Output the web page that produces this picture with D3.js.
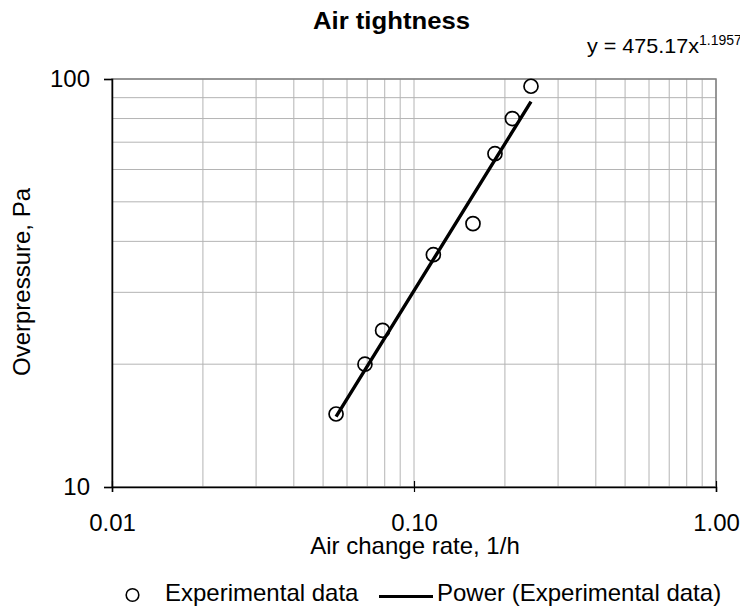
<!DOCTYPE html>
<html>
<head>
<meta charset="utf-8">
<script src="https://cdn.jsdelivr.net/npm/d3@7"></script>
<style>
  body { margin: 0; background: #fff; }
  text { font-family: "Liberation Sans", Arial, sans-serif; }
</style>
</head>
<body>
<div id="chart"></div>
<script>
// measured points (air change rate 1/h, overpressure Pa)
const airChange = [0.0552, 0.0688, 0.0787, 0.1159, 0.1568, 0.1854, 0.2117, 0.2440];
const pressure = [15.1, 20.0, 24.2, 37.1, 44.2, 65.6, 80.0, 96.0];
// power trendline y = a * x^b
const fitA = 475.17;
const fitB = 1.1957;
const xTicks = [0.01, 0.1, 1];
const xTickLabels = ["0.01", "0.10", "1.00"];
const yTicks = [10, 100];

const width = 740, height = 608;
const margin = { left: 112, right: 24, top: 79, bottom: 121 };

const svg = d3.select("#chart").append("svg")
    .attr("width", width)
    .attr("height", height);

const x = d3.scaleLog().domain([0.01, 1]).range([margin.left, width - margin.right]);
const y = d3.scaleLog().domain([10, 100]).range([height - margin.bottom, margin.top]);

// gridlines, 1..9 in each decade
const gridX = [];
const gridY = [];
[0.01, 0.1].forEach(d => { for (let k = 1; k < 10; k++) gridX.push(d * k); });
gridX.push(1);
for (let k = 1; k <= 10; k++) gridY.push(10 * k);

svg.selectAll(".gx").data(gridX).enter().append("line")
    .attr("x1", d => x(d)).attr("x2", d => x(d))
    .attr("y1", y(10)).attr("y2", y(100))
    .style("stroke", "#b4b4b4").style("stroke-width", 1);

svg.selectAll(".gy").data(gridY).enter().append("line")
    .attr("x1", x(0.01)).attr("x2", x(1))
    .attr("y1", d => y(d)).attr("y2", d => y(d))
    .style("stroke", "#b4b4b4").style("stroke-width", 1);

// plot area border (grey top/right)
svg.append("rect")
    .attr("x", x(0.01)).attr("y", y(100))
    .attr("width", x(1) - x(0.01)).attr("height", y(10) - y(100))
    .style("fill", "none").style("stroke", "#808080").style("stroke-width", 1.5);

// axes
const xAxis = d3.axisBottom(x).tickValues(xTicks).tickSize(5)
    .tickFormat((d, i) => xTickLabels[i]).tickPadding(22);
const gx = svg.append("g").attr("transform", `translate(0,${y(10)})`).call(xAxis);
gx.select(".domain").style("stroke", "#000").style("stroke-width", 1.5);
gx.selectAll(".tick line").attr("y1", -6).style("stroke-width", 1.2);
gx.selectAll(".tick text").style("font-size", "24px").style("fill", "#000");

const yAxis = d3.axisLeft(y).tickValues(yTicks).tickSize(8)
    .tickFormat(d3.format("d")).tickPadding(14);
const gy = svg.append("g").attr("transform", `translate(${x(0.01)},0)`).call(yAxis);
gy.select(".domain").style("stroke", "#000").style("stroke-width", 1.5);
gy.selectAll(".tick line").style("stroke-width", 1.2);
gy.selectAll(".tick text").style("font-size", "24px").style("fill", "#000");

// trendline
const xMin = d3.min(airChange), xMax = d3.max(airChange);
const fitPts = d3.range(0, 21).map(i => {
    const xv = xMin * Math.pow(xMax / xMin, i / 20);
    return [xv, fitA * Math.pow(xv, fitB)];
});
svg.append("path")
    .datum(fitPts)
    .attr("d", d3.line().x(d => x(d[0])).y(d => y(d[1])))
    .style("fill", "none").style("stroke", "#000").style("stroke-width", 3.4);

// markers
svg.selectAll(".pt").data(airChange).enter().append("circle")
    .attr("cx", d => x(d))
    .attr("cy", (d, i) => y(pressure[i]))
    .attr("r", 7)
    .style("fill", "none").style("stroke", "#000").style("stroke-width", 1.7);

// titles
svg.append("text").attr("x", 313).attr("y", 29)
    .style("font-size", "24px").style("font-weight", "bold")
    .attr("textLength", 157).attr("lengthAdjust", "spacingAndGlyphs")
    .text("Air tightness");

const eq = svg.append("text").attr("x", 587).attr("y", 53)
    .style("font-size", "21px");
eq.append("tspan").text("y = " + fitA.toFixed(2) + "x")
    .attr("textLength", 112).attr("lengthAdjust", "spacingAndGlyphs");
eq.append("tspan").attr("dy", -8).style("font-size", "14px").text(fitB.toFixed(4));

svg.append("text").attr("x", 415).attr("y", 554)
    .attr("text-anchor", "middle").style("font-size", "24px")
    .text("Air change rate, 1/h");

svg.append("text")
    .attr("transform", `translate(30,${(y(10) + y(100)) / 2 - 1}) rotate(-90)`)
    .attr("text-anchor", "middle").style("font-size", "24px")
    .text("Overpressure, Pa");

// legend
const lg = svg.append("g").attr("transform", "translate(0,595)");
lg.append("circle").attr("cx", 132.5).attr("cy", 0).attr("r", 6.3)
    .style("fill", "none").style("stroke", "#000").style("stroke-width", 1.6);
lg.append("text").attr("x", 165).attr("y", 6).style("font-size", "24px")
    .text("Experimental data");
lg.append("line").attr("x1", 379).attr("x2", 433).attr("y1", 1.5).attr("y2", 1.5)
    .style("stroke", "#000").style("stroke-width", 3);
lg.append("text").attr("x", 437).attr("y", 6).style("font-size", "24px")
    .text("Power (Experimental data)");
</script>
</body>
</html>
